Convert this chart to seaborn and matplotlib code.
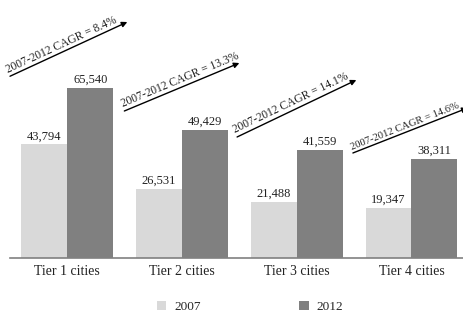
import math
import matplotlib
matplotlib.use("Agg")
import matplotlib.pyplot as plt
import matplotlib.transforms as mtransforms
import seaborn as sns
import pandas as pd

# ---- data ----
categories = ["Tier 1 cities", "Tier 2 cities", "Tier 3 cities", "Tier 4 cities"]
values_2007 = [43794, 26531, 21488, 19347]
values_2012 = [65540, 49429, 41559, 38311]
years = ["2007", "2012"]
cagr_labels = ["8.4%", "13.3%", "14.1%", "14.6%"]

# ---- style / layout ----
colors = {"2007": "#d9d9d9", "2012": "#808080"}
arrow_x0 = [-0.5, 0.497, 1.48, 2.49]       # arrow start x (category units)
arrow_x1 = [0.523, 1.50, 2.52, 3.49]       # arrow end x
arrow_lift = [4530, 7240, 5090, 2170]      # start y above 2012 bar
arrow_rise = [20910, 18500, 21970, 17350]  # vertical rise of arrow
text_size = [8.3, 8.3, 8.3, 7.6]

sns.set_theme(style="white")
plt.rcParams["font.family"] = ["Liberation Serif", "DejaVu Serif"]

df = pd.DataFrame({
    "city": categories * 2,
    "year": [years[0]] * len(categories) + [years[1]] * len(categories),
    "value": values_2007 + values_2012,
})

fig = plt.figure(figsize=(4.64, 3.25), dpi=100)
W, H = 464, 325
ax = fig.add_axes([10 / W, (H - 258) / H, 453 / W, 258 / H])
sns.barplot(data=df, x="city", y="value", hue="year", palette=colors,
            saturation=1, width=0.8, ax=ax, legend=True, errorbar=None,
            linewidth=0, edgecolor="none")

ax.set_xlim(-0.5, 3.45)
ax.set_ylim(0, 99460)
ax.set_xlabel("")
ax.set_ylabel("")
ax.set_yticks([])
for s in ["top", "right", "left"]:
    ax.spines[s].set_visible(False)
ax.spines["bottom"].set_color("#808080")
ax.spines["bottom"].set_linewidth(1.2)
ax.tick_params(axis="x", length=0, pad=5, labelsize=10, colors="#222222")
ax.set_facecolor("white")

for cont in ax.containers:
    ax.bar_label(cont, labels=[f"{v:,.0f}" for v in cont.datavalues],
                 padding=1.5, fontsize=9, color="#222222")

handles, labels = ax.get_legend_handles_labels()
ax.legend_.remove()
fig.legend(handles, labels, loc="center", bbox_to_anchor=(250 / W, 1 - 307 / H),
           ncol=2, frameon=False, fontsize=9.5, handlelength=0.7, handleheight=0.7,
           columnspacing=7.5, handletextpad=0.6)

fig.canvas.draw()
for i, lab in enumerate(cagr_labels):
    x0 = arrow_x0[i]
    y0 = values_2012[i] + arrow_lift[i]
    x1 = arrow_x1[i]
    y1 = y0 + arrow_rise[i]
    ax.annotate("", xy=(x1, y1), xytext=(x0, y0), annotation_clip=False,
                arrowprops=dict(arrowstyle="-|>", color="black", lw=1.0,
                                mutation_scale=8, shrinkA=0, shrinkB=0))
    p0 = ax.transData.transform((x0, y0))
    p1 = ax.transData.transform((x1, y1))
    ang = math.degrees(math.atan2(p1[1] - p0[1], p1[0] - p0[0]))
    r = math.radians(ang)
    off = 0.8
    tr = mtransforms.offset_copy(ax.transData, fig=fig,
                                 x=-math.sin(r) * off, y=math.cos(r) * off, units="points")
    ax.text(x0, y0, f"2007-2012 CAGR = {lab}", rotation=ang, rotation_mode="anchor",
            ha="left", va="bottom", fontsize=text_size[i], color="#222222", transform=tr,
            clip_on=False)

fig.savefig("out.png", dpi=100, facecolor="white")
